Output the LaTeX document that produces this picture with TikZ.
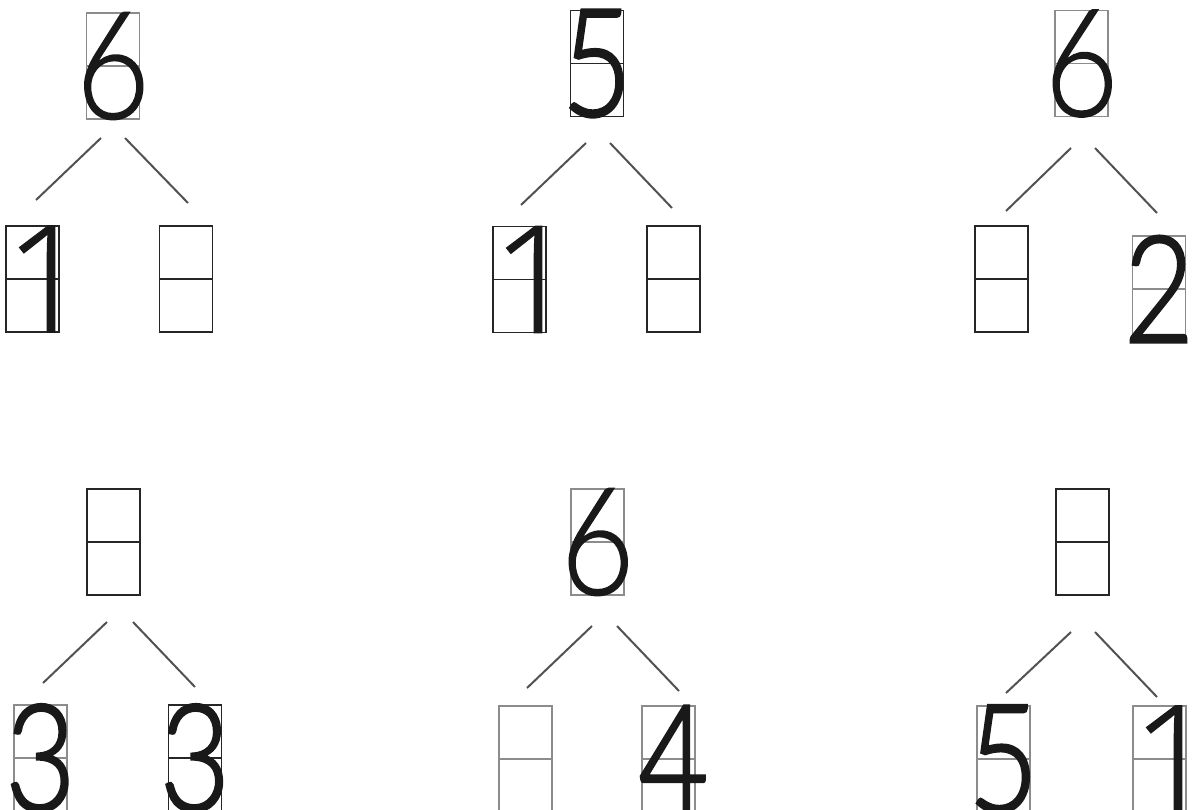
\documentclass[tikz,border=0pt]{standalone}
\usepackage{fontspec}
\newfontfamily\digfont{Lato Light}[FakeBold=1]
\newfontfamily\digbold{Lato Light}[FakeBold=2]
\newfontfamily\onefont{Open Sans Light}[FakeBold=1]
\usetikzlibrary{calc}
\tikzset{
  cell/.style={rectangle, draw=#1, line width=1.1pt, minimum width=53pt, minimum height=106pt,
    inner sep=0pt, outer sep=0pt,
    path picture={\draw[#1, line width=1.1pt] (path picture bounding box.west) -- (path picture bounding box.east);}},
  cell/.default=black!85,
  gcell/.style={cell=black!45},
  link/.style={draw=black!68, line width=2pt},
  digit/.style={inner sep=0pt, outer sep=0pt, text=black!90},
}
\newcommand\dthin[1]{\resizebox{74pt}{106pt}{\digfont #1}}
\newcommand\dbold[1]{\resizebox{70pt}{106pt}{\digbold #1}}
\newcommand\done{\makebox[36pt]{\resizebox{84pt}{106pt}{\onefont 1}}}
\begin{document}
\begin{tikzpicture}[x=1pt,y=-1pt]
\path[use as bounding box, fill=white] (0,0) rectangle (1192,809);
% ---------- tree 1
\node[gcell] (T1) at (113,66) {};
\node[cell] (L1) at (32.5,279) {};
\node[cell] (R1) at (186,279) {};
\node[digit] (T1d) at (T1.center) {\dthin{6}};
\node[digit] (L1d) at ($(L1.center)+(15,0)$) {\done};
\coordinate (a1) at (101,138); \coordinate (b1) at (36,200);
\coordinate (c1) at (125,138); \coordinate (d1) at (188,203);
\draw[link] (a1) -- (b1); \draw[link] (c1) -- (d1);
% ---------- tree 2
\node[cell] (T2) at (597,63.5) {};
\node[cell] (L2) at (519.5,279.5) {};
\node[cell] (R2) at (673.5,279) {};
\node[digit] (T2d) at (T2.center) {\dbold{5}};
\node[digit] (L2d) at ($(L2.center)+(15,0)$) {\done};
\coordinate (a2) at (586,143); \coordinate (b2) at (521,205);
\coordinate (c2) at (610,143); \coordinate (d2) at (672,208);
\draw[link] (a2) -- (b2); \draw[link] (c2) -- (d2);
% ---------- tree 3
\node[gcell] (T3) at (1081.5,63.5) {};
\node[cell] (L3) at (1001.5,279) {};
\node[gcell] (R3) at (1159,289) {};
\node[digit] (T3d) at (T3.center) {\dthin{6}};
\node[digit] (R3d) at (R3.center) {\dbold{2}};
\coordinate (a3) at (1071,148); \coordinate (b3) at (1006,211);
\coordinate (c3) at (1095,148); \coordinate (d3) at (1157,213);
\draw[link] (a3) -- (b3); \draw[link] (c3) -- (d3);
% ---------- tree 4
\node[cell] (T4) at (113.5,542) {};
\node[gcell] (L4) at (40.5,758) {};
\node[cell] (R4) at (195,758) {};
\node[digit] (L4d) at (L4.center) {\dbold{3}};
\node[digit] (R4d) at (R4.center) {\dbold{3}};
\coordinate (a4) at (107,622); \coordinate (b4) at (43,683);
\coordinate (c4) at (133,622); \coordinate (d4) at (195,687);
\draw[link] (a4) -- (b4); \draw[link] (c4) -- (d4);
% ---------- tree 5
\node[gcell] (T5) at (597.5,542) {};
\node[gcell] (L5) at (525.5,759) {};
\node[gcell] (R5) at (668.5,759) {};
\node[digit] (T5d) at (T5.center) {\dthin{6}};
\node[digit] (R5d) at ($(R5.center)+(5,0)$) {\dbold{4}};
\coordinate (a5) at (592,626); \coordinate (b5) at (527,688);
\coordinate (c5) at (617,626); \coordinate (d5) at (679,691);
\draw[link] (a5) -- (b5); \draw[link] (c5) -- (d5);
% ---------- tree 6
\node[cell] (T6) at (1082.5,542) {};
\node[gcell] (L6) at (1003.5,759) {};
\node[gcell] (R6) at (1159.5,759) {};
\node[digit] (L6d) at (L6.center) {\dbold{5}};
\node[digit] (R6d) at ($(R6.center)+(15,0)$) {\done};
\coordinate (a6) at (1071,632); \coordinate (b6) at (1006,693);
\coordinate (c6) at (1095,632); \coordinate (d6) at (1157,697);
\draw[link] (a6) -- (b6); \draw[link] (c6) -- (d6);
\end{tikzpicture}
\end{document}
